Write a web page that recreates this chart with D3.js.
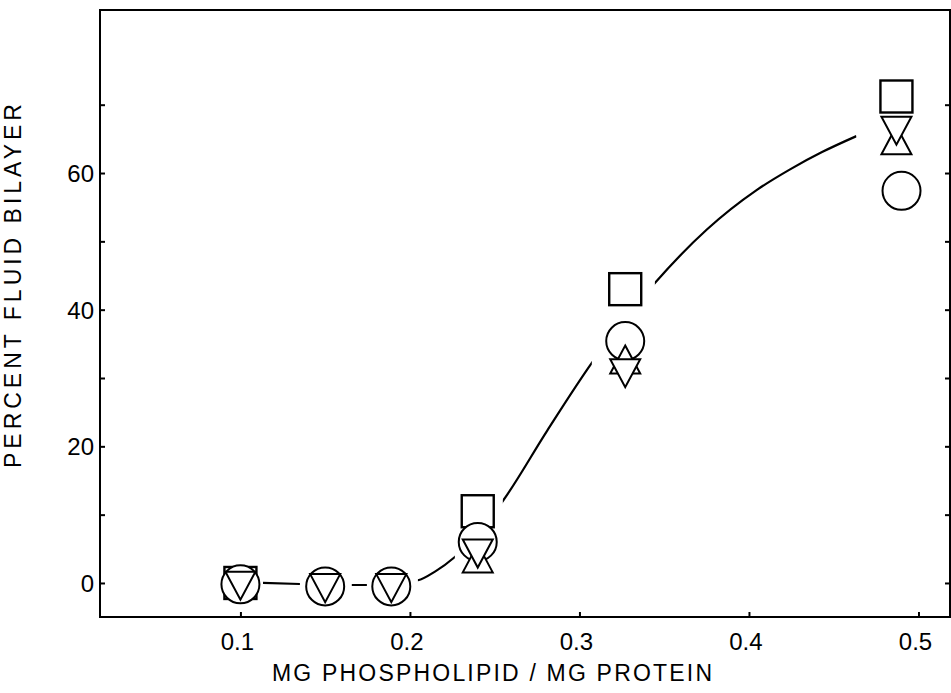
<!DOCTYPE html>
<html>
<head>
<meta charset="utf-8">
<script src="https://cdn.jsdelivr.net/npm/d3@7"></script>
<style>
  html, body { margin: 0; padding: 0; background: #fff; }
  svg { display: block; }
  text { font-family: "Liberation Sans", "DejaVu Sans", sans-serif; fill: #000; }
</style>
</head>
<body>
<svg id="chart" width="951" height="693"></svg>
<script>
// ---------------- data ----------------
const xTickValues = [0.1, 0.2, 0.3, 0.4, 0.5];
const xTickLabels = ["0.1", "0.2", "0.3", "0.4", "0.5"];
const yTickValues = [0, 10, 20, 30, 40, 50, 60, 70];
const yLabelValues = [0, 20, 40, 60];
const yLabelTexts = ["0", "20", "40", "60"];

const xTitle = "MG  PHOSPHOLIPID / MG  PROTEIN";
const yTitle = "PERCENT  FLUID  BILAYER";

// series: circles
const circleX = [0.1, 0.15, 0.189, 0.24, 0.327, 0.49];
const circleY = [-0.2, -0.5, -0.5, 6.0, 35.4, 57.4];
// series: squares
const squareX = [0.1, 0.24, 0.327, 0.487];
const squareY = [0.0, 10.5, 43.0, 71.2];
// series: upward triangles
const triUpX = [0.24, 0.327, 0.487];
const triUpY = [3.6, 32.7, 64.8];
// series: downward triangles
const triDownX = [0.1, 0.15, 0.189, 0.24, 0.327, 0.487];
const triDownY = [-0.4, -0.75, -0.75, 4.3, 30.7, 66.2];

// fitted curve
const curveX = [0.1133, 0.135, 0.1657, 0.1746, 0.2047, 0.215, 0.2265, 0.2548, 0.281, 0.3073, 0.3445, 0.375, 0.4045, 0.424, 0.4434, 0.4634];
const curveY = [0.0, -0.15, -0.3, -0.3, 0.4, 1.7, 3.8, 12.0, 22.3, 32.2, 43.9, 51.7, 57.5, 60.5, 63.1, 65.4];
// x-ranges where the curve is drawn (it is broken around the symbols)
const curveVisibleX = [[0.1133, 0.1351], [0.1657, 0.1746], [0.2047, 0.2265], [0.2548, 0.3073], [0.3445, 0.4634]];

// ---------------- layout ----------------
const svg = d3.select("#chart");
const L = 100, R = 950, T = 10, B = 617;

const x = d3.scaleLinear().domain([0.01716, 0.5186]).range([L, R]);
const y = d3.scaleLinear().domain([-4.98, 83.86]).range([B, T]);

// frame
svg.append("rect")
  .attr("x", L).attr("y", T).attr("width", R - L).attr("height", B - T)
  .attr("fill", "none").attr("stroke", "#000").attr("stroke-width", 2);

// axes (ticks inward)
const tickLen = 5;
svg.append("g").attr("transform", `translate(${L},0)`)
  .call(d3.axisRight(y).tickValues(yTickValues).tickSize(tickLen).tickFormat(""))
  .call(g => g.select(".domain").remove())
  .call(g => g.selectAll("line").attr("stroke-width", 2));
svg.append("g").attr("transform", `translate(${R},0)`)
  .call(d3.axisLeft(y).tickValues(yTickValues).tickSize(tickLen).tickFormat(""))
  .call(g => g.select(".domain").remove())
  .call(g => g.selectAll("line").attr("stroke-width", 2));
svg.append("g").attr("transform", `translate(0,${B})`)
  .call(d3.axisTop(x).tickValues(xTickValues).tickSize(tickLen).tickFormat(""))
  .call(g => g.select(".domain").remove())
  .call(g => g.selectAll("line").attr("stroke-width", 2));

// tick labels
svg.append("g").selectAll("text").data(xTickValues).join("text")
  .attr("x", d => x(d) - 3).attr("y", 650)
  .attr("text-anchor", "middle").attr("font-size", 24)
  .text((d, i) => xTickLabels[i]);
svg.append("g").selectAll("text").data(yLabelValues).join("text")
  .attr("x", 94).attr("y", d => y(d) + 9)
  .attr("text-anchor", "end").attr("font-size", 24)
  .text((d, i) => yLabelTexts[i]);

// titles
svg.append("text")
  .attr("x", 272).attr("y", 681)
  .attr("font-size", 23)
  .attr("textLength", 440).attr("lengthAdjust", "spacing")
  .text(xTitle);
svg.append("text")
  .attr("transform", "translate(21,468) rotate(-90)")
  .attr("font-size", 23)
  .attr("textLength", 364).attr("lengthAdjust", "spacing")
  .text(yTitle);

// curve with breaks
const clip = svg.append("clipPath").attr("id", "curveClip");
clip.selectAll("rect").data(curveVisibleX).join("rect")
  .attr("x", d => x(d[0])).attr("width", d => x(d[1]) - x(d[0]))
  .attr("y", T).attr("height", B - T);
const line = d3.line().x(d => x(d[0])).y(d => y(d[1])).curve(d3.curveMonotoneX);
svg.append("path")
  .datum(d3.zip(curveX, curveY))
  .attr("d", line)
  .attr("clip-path", "url(#curveClip)")
  .attr("fill", "none").attr("stroke", "#000").attr("stroke-width", 2.2);

// symbols
const sw = 2;
const sq = 32;
svg.append("g").selectAll("rect").data(d3.zip(squareX, squareY)).join("rect")
  .attr("x", d => x(d[0]) - sq / 2).attr("y", d => y(d[1]) - sq / 2)
  .attr("width", sq).attr("height", sq)
  .attr("fill", "#fff").attr("stroke", "#000").attr("stroke-width", 2.4);

svg.append("g").selectAll("circle").data(d3.zip(circleX, circleY)).join("circle")
  .attr("cx", d => x(d[0])).attr("cy", d => y(d[1])).attr("r", 19)
  .attr("fill", "#fff").attr("stroke", "#000").attr("stroke-width", sw);

const tw = 15, th = 14;
svg.append("g").selectAll("path").data(d3.zip(triUpX, triUpY)).join("path")
  .attr("d", d => {
    const cx = x(d[0]), cy = y(d[1]);
    return `M${cx},${cy - th}L${cx + tw},${cy + th}L${cx - tw},${cy + th}Z`;
  })
  .attr("fill", "#fff").attr("stroke", "#000").attr("stroke-width", sw).attr("stroke-linejoin", "miter");

svg.append("g").selectAll("path").data(d3.zip(triDownX, triDownY)).join("path")
  .attr("d", d => {
    const cx = x(d[0]), cy = y(d[1]);
    return `M${cx - tw},${cy - th}L${cx + tw},${cy - th}L${cx},${cy + th}Z`;
  })
  .attr("fill", "#fff").attr("stroke", "#000").attr("stroke-width", sw).attr("stroke-linejoin", "miter");
</script>
</body>
</html>
